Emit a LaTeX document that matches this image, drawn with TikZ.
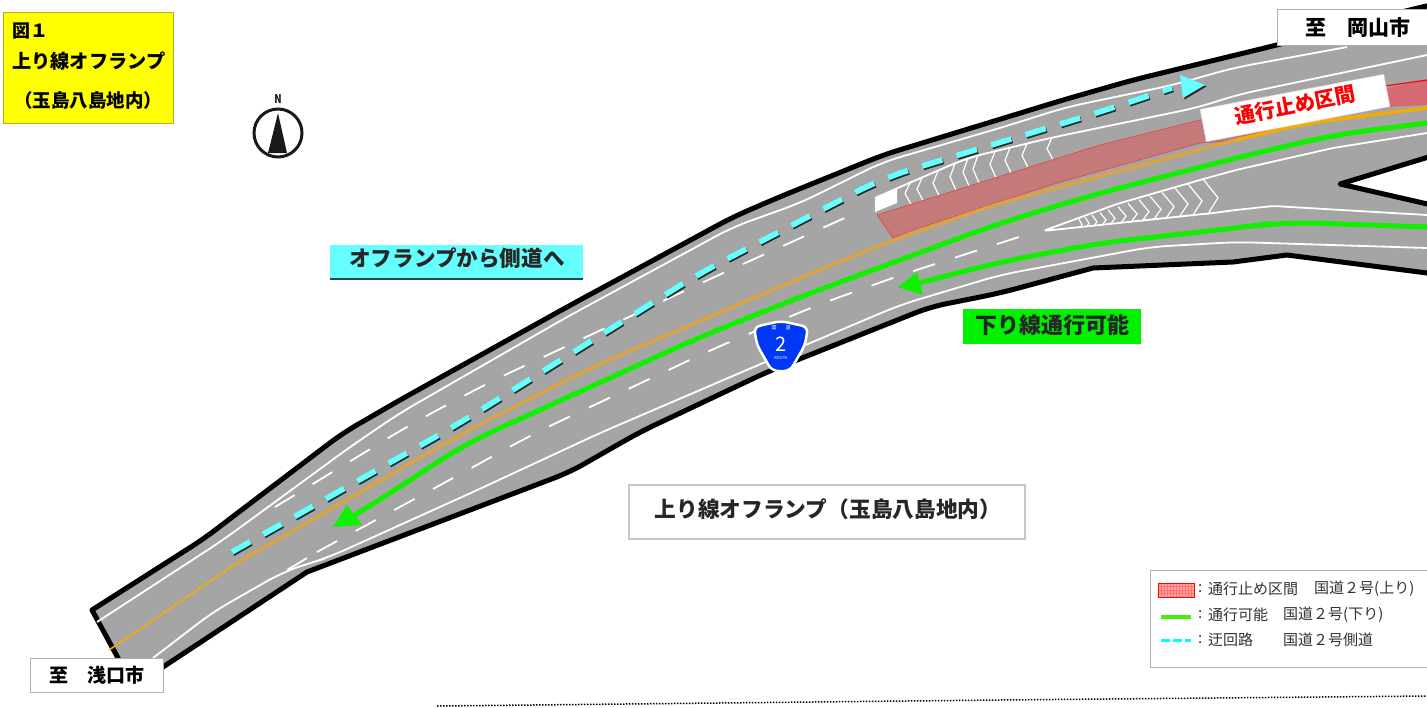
\documentclass[tikz,border=0pt]{standalone}
\usepackage{fontspec}
\setmainfont{Noto Sans CJK JP}
\usetikzlibrary{calc}
\definecolor{roadgrey}{HTML}{A5A5A5}
\definecolor{closedred}{HTML}{C47A78}
\definecolor{closedhatch}{HTML}{D56A72}
\definecolor{mygreen}{HTML}{10F000}
\definecolor{mycyan}{HTML}{66FFFF}
\definecolor{myorange}{HTML}{F2AE00}
\definecolor{dullorange}{HTML}{D9A445}
\definecolor{boxgrey}{HTML}{B0B0B0}
\definecolor{shieldblue}{HTML}{0038F5}
\definecolor{pureyellow}{HTML}{FFFF00}
\definecolor{titleedge}{HTML}{B5AE20}
\definecolor{purecyan}{HTML}{00FFFF}
\definecolor{purered}{HTML}{FF0000}
\definecolor{pinkfill}{HTML}{FFA5A5}
\definecolor{pinkgrid}{HTML}{FF7070}
\definecolor{callgreen}{HTML}{00F000}
\definecolor{legendgreen}{HTML}{40F000}
\definecolor{closededge}{HTML}{DC5050}
\newcommand{\fs}[1]{\fontsize{#1}{#1}\selectfont}
\tikzset{
  x=1pt,y=-1pt,
  roadedge/.style={draw=black,line width=5pt,line join=round,fill=roadgrey},
  whiteline/.style={draw=white,line width=1.8pt,line join=round,rounded corners=18pt},
  lanedash/.style={draw=white,line width=1.8pt,dash pattern=on 23pt off 21pt,rounded corners=25pt},
  chevron/.style={draw=white,line width=1.2pt,line join=miter},
  greenroute/.style={draw=mygreen,line width=5pt,line join=round,rounded corners=35pt},
  cyanroute/.style={draw=mycyan,line width=5.5pt,dash pattern=on 21pt off 15pt,rounded corners=30pt},
  cyanshadow/.style={draw=black!85,line width=5.5pt,dash pattern=on 21pt off 15pt,rounded corners=30pt},
  labelbox/.style={draw=boxgrey,fill=white,line width=1pt,inner sep=0pt,font=\bfseries},
  legendtext/.style={anchor=west,inner sep=0pt,text=black!80,font=\fs{15}},
}
\begin{document}
\begin{tikzpicture}
\useasboundingbox (0,0) rectangle (1427,707);
\clip (0,0) rectangle (1427,707);
% road
\path[roadedge] (92,610) [rounded corners=16pt] -- (205,538) -- (227,521) -- (343,433) -- (400,400) -- (567,307) -- (733,217) -- (777,198) -- (883,155) -- (1063,100) -- (1133,80) -- (1277,45) -- (1417,8) -- (1445,2) [sharp corners] -- (1445,280) -- (1427,273) -- (1287,255) -- (1233,262) -- (1093,268) [rounded corners=16pt] -- (1000,293) -- (930,307) -- (767,372) -- (640,432) -- (570,472) [sharp corners] -- (307,572) -- (163,667) -- (130,690) -- (118,658) -- cycle;
\path[draw=black,fill=white,line width=5pt,line join=round] (1340,184) -- (1445,152) -- (1445,208) -- cycle;
% white lines
\draw[whiteline] (97,622) -- (223,540) -- (350,447) -- (400,413) -- (567,317) -- (733,227) -- (800,203) -- (883,162) -- (1000,128) -- (1067,107) -- (1173,85) -- (1233,68) -- (1347,47);
\draw[whiteline] (1427,55) -- (1236,95) -- (1200,107) -- (1050,138) -- (967,158) -- (900,187) -- (875,198);
\draw[whiteline] (153,658) -- (213,612) -- (283,572) -- (307,564) -- (327,558) -- (473,492) -- (600,433) -- (763,363) -- (900,305) -- (1000,275) -- (1150,247) -- (1236,242) -- (1427,248);
\draw[whiteline] (287,570) -- (307,558);
\draw[whiteline,rounded corners=4pt] (1427,215) -- (1273,206) -- (1236,210) -- (1213,213) -- (1043,231) -- (1117,204) -- (1200,180) -- (1236,170) -- (1333,148) -- (1427,133);
\draw[lanedash] (275,507) -- (413,423) -- (490,382) -- (710,279) -- (849,216);
\draw[lanedash] (317,552) -- (455,477) -- (535,433) -- (713,349) -- (815,306) -- (898,276) -- (1022,236);
% upper zebra
\fill[white] (875,198) -- (897,189) -- (897,203) -- (875,212) -- cycle;
\foreach \t in {905,917,933,950,963,973,990,1005,1022,1047} {
  \pgfmathsetmacro{\yt}{ifthenelse(\t<967,198-(\t+5-875)*0.43,158-(\t+5-967)*0.24)}
  \pgfmathsetmacro{\yb}{215-(\t+6-877)*0.314}
  \pgfmathsetmacro{\ym}{(\yt+\yb)/2}
  \draw[chevron] (\t+5,\yt) -- (\t,\ym) -- (\t+6,\yb);
}
% lower zebra
\foreach \t/\w in {1203/15,1188/14,1175/13,1162/12,1150/11,1139/10,1128/9,1118/8,1108/7,1100/6,1092/5,1085/4,1079/3} {
  \pgfmathsetmacro{\yt}{231-(\t-1043)*0.325}
  \pgfmathsetmacro{\yb}{231-(\t-5-1043)*0.106}
  \pgfmathsetmacro{\ym}{(\yt+\yb)/2+1}
  \draw[chevron] (\t,\yt) -- (\t+\w,\ym) -- (\t+0.3*\w,\yb);
}
% closed section
\fill[closedred,draw=closededge,line width=0.8pt,line join=round] (877,215) -- (893,238) -- (913,230) -- (1057,183) -- (1200,143) -- (1236,140) -- (1240,113) -- (1200,120) -- (1100,145) -- cycle;
\fill[closedhatch] (1236,140) -- (1300,123) -- (1387,107) -- (1427,105) -- (1427,80) -- (1387,88) -- (1240,113) -- cycle;
\draw[purered,line width=1.2pt] (1385,86) -- (1427,80);
\draw[purered,line width=1.2pt] (1236,140) -- (1300,123) -- (1387,107);
% orange line
\draw[myorange,line width=1.6pt,line join=round] (109,650) -- (237,563);
\draw[dullorange,line width=3.5pt,line join=round,rounded corners=30pt] (237,563) -- (463,433) -- (590,368) -- (800,278) -- (893,240) -- (1000,203) -- (1236,140);
\draw[myorange,line width=3.5pt,line join=round,rounded corners=30pt] (1236,140) -- (1307,123) -- (1427,108);
% green routes
\draw[greenroute] (1427,123) -- (1333,135) -- (1236,158) -- (1100,193) -- (1000,223) -- (900,260) -- (800,297) -- (700,337) -- (590,387) -- (463,445) -- (400,487) -- (350,518);
\fill[mygreen] (333,527) -- (347,505) -- (362,525) -- cycle;
\draw[greenroute] (1427,227) -- (1283,222) -- (1236,228) -- (1100,243) -- (1000,262) -- (915,284);
\fill[mygreen] (898,287) -- (917,272) -- (923,295) -- cycle;
% detour
\draw[cyanshadow,shift={(1,1.5)}] (232,552) -- (460,423) -- (700,273) -- (883,178) -- (1100,112) -- (1172,88);
\fill[black!85,shift={(1.5,1.5)}] (1180,75) -- (1205,85) -- (1183,98) -- cycle;
\draw[cyanroute] (232,552) -- (460,423) -- (700,273) -- (883,178) -- (1100,112) -- (1172,88);
\fill[mycyan] (1180,75) -- (1205,85) -- (1183,98) -- cycle;
% closure label
\node[fill=white,draw=black!15,line width=0.5pt,minimum width=187pt,minimum height=33pt,inner sep=0pt,rotate=10.8] (closure) at (1295,108) {};
\node[text=purered,font=\bfseries\fs{20.5},rotate=10.8,inner sep=0pt] (closuretext) at (1295,105) {通行止め区間};
% shield
\path[draw=white,fill=shieldblue,line width=2.5pt,rounded corners=6pt,line join=round] (754,327) -- (781,321) -- (808,327) -- (805,345) -- (790,371) -- (772,371) -- (757,345) -- cycle;
\node[text=white,font=\fs{5},inner sep=0pt] (shieldkoku) at (774,328) {国};
\node[text=white,font=\fs{5},inner sep=0pt] (shielddo) at (788,328) {道};
\node[text=white,font=\fs{20},inner sep=0pt] (shieldnum) at (781,344) {2};
\node[text=white,font=\fs{4},inner sep=0pt] (shieldroute) at (781,358) {ROUTE};
% compass
\draw[black!90,line width=3pt] (278,133) circle[radius=24];
\fill[black!90] (278,113) -- (287,153) -- (268,153) -- cycle;
\node[font=\bfseries\fs{12},text=black!90,inner sep=0pt,xscale=0.8] (north) at (278,99) {N};
% title box
\node[draw=titleedge,fill=pureyellow,line width=1pt,minimum width=170pt,minimum height=111pt,inner sep=0pt] (titlebox) at (88.5,68) {};
\node[anchor=west,font=\bfseries\fs{18},inner sep=0pt] (titlea) at (12,31) {図１};
\node[anchor=west,font=\bfseries\fs{19.2},inner sep=0pt] (titleb) at (12,61) {上り線オフランプ};
\node[font=\bfseries\fs{18.5},inner sep=0pt] (titlec) at (88,100) {（玉島八島地内）};
% direction labels
\node[labelbox,minimum width=152pt,minimum height=36pt] (okayama) at (1353,27) {};
\node[font=\bfseries\fs{21},inner sep=0pt] (okayamatext) at (1358,27) {至　岡山市};
\node[labelbox,minimum width=133pt,minimum height=34pt] (asakuchi) at (96.5,675) {\fs{19}至　浅口市};
% callouts
\fill[black!70!mycyan] (330,248) rectangle (583,280);
\node[fill=mycyan,minimum width=253pt,minimum height=33pt,inner sep=0pt] (detourbox) at (456.5,261) {};
\node[font=\bfseries\fs{21.6},text=black!85,inner sep=0pt] (detourtext) at (457,258) {オフランプから側道へ};
\node[fill=callgreen,minimum width=178pt,minimum height=35pt,inner sep=0pt] (openbox) at (1052,326.5) {};
\node[font=\bfseries\fs{22},text=black!85,inner sep=0pt] (opentext) at (1052,325) {下り線通行可能};
\node[draw=black!22,fill=white,line width=2pt,minimum width=396pt,minimum height=54pt,inner sep=0pt] (mainbox) at (827,512) {};
\node[font=\bfseries\fs{21.7},text=black!85,inner sep=0pt] (maintext) at (828,509) {上り線オフランプ（玉島八島地内）};
% legend
\node[draw=boxgrey,fill=white,line width=1pt,minimum width=290pt,minimum height=97pt,inner sep=0pt,anchor=north west] (legendbox) at (1150,570) {};
\fill[pinkfill] (1158,583) rectangle (1194,597);
\foreach \i in {1,...,11} \draw[pinkgrid,line width=0.4pt] (1158+\i*3,583) -- (1158+\i*3,597);
\foreach \i in {1,...,3} \draw[pinkgrid,line width=0.4pt] (1158,583+\i*3.5) -- (1194,583+\i*3.5);
\draw[purered,line width=1pt] (1158,583) rectangle (1194,597);
\draw[legendgreen,line width=3.5pt] (1161,617) -- (1191,617);
\draw[purecyan,line width=3pt,dash pattern=on 9pt off 3pt] (1161,640) -- (1191,640);
\node[legendtext] (la) at (1198,589) {:};
\node[legendtext] (lb) at (1198,615) {:};
\node[legendtext] (lc) at (1198,640) {:};
\node[legendtext] (l1a) at (1208,589) {通行止め区間};
\node[legendtext] (l1b) at (1314,589) {国道２号(上り)};
\node[legendtext] (l2a) at (1208,615) {通行可能};
\node[legendtext] (l2b) at (1283,615) {国道２号(下り)};
\node[legendtext] (l3a) at (1208,640) {迂回路};
\node[legendtext] (l3b) at (1283,640) {国道２号側道};
% dotted line
\draw[black,line width=1.5pt,dash pattern=on 1.5pt off 1.5pt] (437,706) -- (1000,700) -- (1427,696);
\end{tikzpicture}
\end{document}
